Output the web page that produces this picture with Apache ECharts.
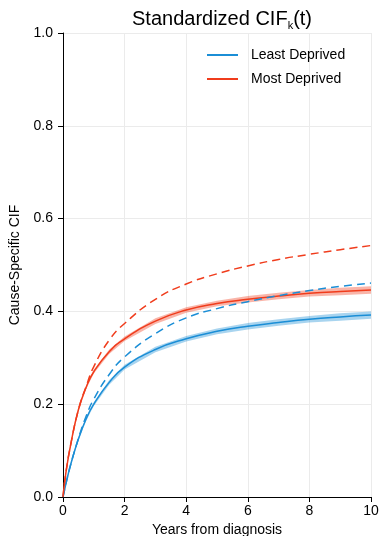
<!DOCTYPE html>
<html>
<head>
<meta charset="utf-8">
<script src="https://cdn.jsdelivr.net/npm/echarts@6/dist/echarts.min.js"></script>
<style>
  html, body { margin: 0; padding: 0; background: #fff; }
  #chart { width: 380px; height: 536px; }
</style>
</head>
<body>
<div id="chart"></div>
<script>
// years from diagnosis
const years = [0, 0.1, 0.25, 0.5, 0.75, 1, 1.5, 2, 3, 4, 5, 6, 7, 8, 9, 10];

// standardized CIF, solid lines
const leastSolid = [0, 0.030, 0.070, 0.125, 0.168, 0.200, 0.247, 0.280, 0.318, 0.341, 0.357, 0.368, 0.376, 0.383, 0.388, 0.392];
const mostSolid = [0, 0.055, 0.113, 0.188, 0.236, 0.270, 0.313, 0.341, 0.379, 0.403, 0.417, 0.426, 0.433, 0.439, 0.443, 0.446];

// confidence bands around the solid lines
const leastLower = [0, 0.028, 0.067, 0.121, 0.164, 0.196, 0.242, 0.275, 0.312, 0.335, 0.351, 0.361, 0.369, 0.376, 0.380, 0.384];
const leastUpper = [0, 0.032, 0.073, 0.129, 0.172, 0.204, 0.252, 0.285, 0.324, 0.347, 0.363, 0.375, 0.383, 0.390, 0.396, 0.400];
const mostLower = [0, 0.053, 0.110, 0.184, 0.232, 0.266, 0.308, 0.336, 0.373, 0.397, 0.411, 0.419, 0.426, 0.432, 0.435, 0.438];
const mostUpper = [0, 0.057, 0.116, 0.192, 0.240, 0.274, 0.318, 0.346, 0.385, 0.409, 0.423, 0.433, 0.440, 0.446, 0.451, 0.454];

// dashed lines
const leastDashed = [0, 0.030, 0.070, 0.126, 0.174, 0.211, 0.264, 0.302, 0.352, 0.386, 0.406, 0.421, 0.434, 0.445, 0.454, 0.461];
const mostDashed = [0, 0.055, 0.113, 0.188, 0.238, 0.281, 0.338, 0.374, 0.426, 0.459, 0.481, 0.498, 0.512, 0.523, 0.533, 0.542];

const yTicks = [0, 0.2, 0.4, 0.6, 0.8, 1.0];
const xTicks = [0, 2, 4, 6, 8, 10];

const BLUE = '#1b8ed6';
const RED = '#f03c1c';
const FONT = 'Liberation Sans, Arial, sans-serif';

const pairs = (ys) => years.map((x, i) => [x, ys[i]]);

// shaded band drawn as one polygon through the axis scales
function band(name, lo, hi, color) {
  return {
    name: name,
    type: 'custom',
    silent: true,
    z: 1,
    data: years.map((x, i) => [x, lo[i], hi[i]]),
    encode: { x: 0, y: [1, 2] },
    renderItem: (params, api) => {
      if (params.dataIndex !== 0) return null;
      const top = years.map((x, i) => api.coord([x, hi[i]]));
      const bot = years.map((x, i) => api.coord([x, lo[i]])).reverse();
      return {
        type: 'polygon',
        shape: { points: top.concat(bot) },
        style: { fill: color, opacity: 0.38 },
      };
    },
  };
}

function line(name, ys, color, dashed) {
  return {
    name: name,
    type: 'line',
    data: pairs(ys),
    symbol: 'none',
    showSymbol: false,
    smooth: true,
    color: color,
    lineStyle: { color: color, width: 1.5, type: dashed ? [8, 5] : 'solid' },
    z: dashed ? 4 : 3,
  };
}

const chart = echarts.init(document.getElementById('chart'));

chart.setOption({
  animation: false,
  textStyle: { fontFamily: FONT },
  title: {
    text: '{a|Standardized CIF}{s|k}{a|(t)}',
    left: 217,
    textAlign: 'center',
    top: 4,
    textStyle: {
      fontWeight: 'normal',
      rich: {
        a: { fontSize: 20, color: '#000', fontFamily: FONT, fontWeight: 'normal', verticalAlign: 'bottom' },
        s: { fontSize: 11, color: '#000', fontFamily: FONT, fontWeight: 'normal', verticalAlign: 'bottom', padding: [0, 0, -2, 0] },
      },
    },
  },
  legend: {
    orient: 'vertical',
    left: 202,
    top: 43,
    icon: 'rect',
    itemWidth: 31,
    itemHeight: 2,
    itemGap: 10,
    data: ['Least Deprived', 'Most Deprived'],
    textStyle: { fontSize: 14, lineHeight: 14, color: '#000', fontFamily: FONT, padding: [0, 0, 0, 8] },
  },
  grid: { left: 63, right: 9, top: 33, bottom: 39, outerBoundsMode: 'none', containLabel: false },
  xAxis: {
    type: 'value',
    min: 0, max: 10, interval: 2,
    name: 'Years from diagnosis',
    nameLocation: 'middle',
    nameGap: 23,
    nameTextStyle: { fontSize: 14, color: '#000', fontFamily: FONT },
    axisLine: { lineStyle: { color: '#000', width: 1 } },
    axisTick: { show: true, length: 5, lineStyle: { color: '#000' } },
    axisLabel: { fontSize: 14, color: '#000', margin: 7,
      formatter: (v) => (xTicks.includes(v) ? String(v) : '') },
    splitLine: { show: true, lineStyle: { color: '#ebebeb', width: 1 } },
  },
  yAxis: {
    type: 'value',
    min: 0, max: 1, interval: 0.2,
    name: 'Cause-Specific CIF',
    nameLocation: 'middle',
    nameGap: 36,
    nameTextStyle: { fontSize: 14, color: '#000', fontFamily: FONT },
    axisLine: { show: true, lineStyle: { color: '#000', width: 1 } },
    axisTick: { show: true, length: 5, lineStyle: { color: '#000' } },
    axisLabel: { fontSize: 14, color: '#000', margin: 10,
      formatter: (v) => {
        const t = yTicks.find((y) => Math.abs(y - v) < 1e-6);
        return t === undefined ? '' : t.toFixed(1);
      } },
    splitLine: { show: true, lineStyle: { color: '#ebebeb', width: 1 } },
  },
  series: [
    band('least band', leastLower, leastUpper, BLUE),
    band('most band', mostLower, mostUpper, RED),
    line('Least Deprived', leastSolid, BLUE, false),
    line('Most Deprived', mostSolid, RED, false),
    line('Least dashed', leastDashed, BLUE, true),
    line('Most dashed', mostDashed, RED, true),
  ],
});
</script>
</body>
</html>
